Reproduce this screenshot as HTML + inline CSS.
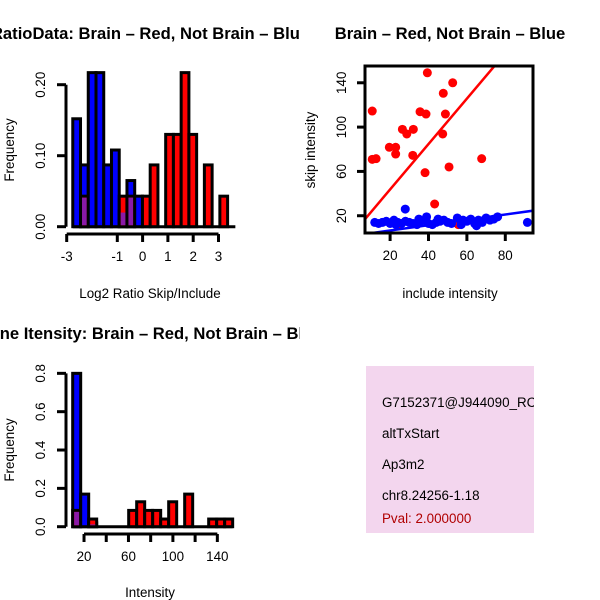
<!DOCTYPE html>
<html><head><meta charset="utf-8"><style>
html,body{margin:0;padding:0;background:#fff;}
svg{display:block;font-family:"Liberation Sans",sans-serif;}
</style></head><body>
<svg id="c" width="600" height="600" viewBox="0 0 600 600">
<defs><clipPath id="leftclip"><rect x="0" y="0" width="300" height="600"/></clipPath></defs>
<rect x="0" y="0" width="600" height="600" fill="#fff"/>
<g id="p1" clip-path="url(#leftclip)"></g>
<g id="p2"></g>
<g id="p3" clip-path="url(#leftclip)"></g>
<g>
<rect x="366" y="366" width="168" height="167" fill="#f3d6ee"/>
<svg x="366" y="366" width="168" height="167" overflow="hidden">
<text x="16" y="41" font-size="13.4">G7152371@J944090_RC</text>
<text x="16" y="72" font-size="13.4">altTxStart</text>
<text x="16" y="103" font-size="13.4">Ap3m2</text>
<text x="16" y="134" font-size="13.4">chr8.24256-1.18</text>
<text x="16" y="157" font-size="13.4" fill="#b00000">Pval: 2.000000</text>
</svg>
</g>
</svg>
<script>
// ---- Panel 1 data: log2 ratio histogram ----
const ratioBinStart = -2.76;
const ratioBinWidth = 0.306;
const ratioBlue = [0.152,0.087,0.217,0.217,0.087,0.108,0.022,0.065,0.043,0,0,0,0,0,0,0,0,0,0,0,0];
const ratioRed  = [0,0.043,0,0,0,0,0.043,0.043,0,0.043,0.087,0,0.13,0.13,0.217,0.13,0,0.087,0,0.043,0];
const ratioXTicks = [-3,-1,0,1,2,3];
const ratioYTicks = [0,0.1,0.2];
const ratioYLabels = ["0.00","0.10","0.20"];

// ---- Panel 2 data: scatter ----
const redInclude = [10.7,10.7,12.7,19.6,22.9,22.9,26.4,28.7,32.1,31.8,35.6,38.7,38.2,39.4,43.2,47.7,48.8,47.4,50.7,52.6,67.7,55.5,24.3];
const redSkip    = [114.5,70.9,71.5,81.8,81.8,75.7,98,93.8,98,74.5,113.9,111.8,58.9,149,30.6,130.5,111.8,93.8,64,140,71.5,12,12];
const blueInclude = [12,14,16,18,20,22,24,26,27.9,28,30,32,34,36,38,39,40,42,44,46,48,50,52,55,57,60,62,64,66,68,70,72,74,76,91.5,23,45,65,35,58];
const blueSkip    = [14,13,14,15,13,16,14,13,26,15,14,13,12,15,16,19,13,12,14,15,16,14,13,18,12,15,17,13,16,14,18,16,17,19,14,12,17,11,17,16];
const redFit = [2.7,2.05];
const blueFit = [1.9,0.24];
const scatXTicks = [20,40,60,80];
const scatYTicks = [20,60,100,140];

// ---- Panel 3 data: intensity histogram ----
const intBinStart = 9.8;
const intBinWidth = 7.2;
const intBlue = [0.8,0.17,0.02,0,0,0,0,0,0,0,0,0,0,0,0,0,0,0,0,0];
const intRed  = [0.085,0,0.04,0,0,0,0,0.085,0.13,0.085,0.085,0.04,0.13,0,0.17,0,0,0.04,0.04,0.04];
const intXTicks = [20,40,60,80,100,120,140];
const intXLabels = ["20","","60","","100","","140"];
const intYTicks = [0,0.2,0.4,0.6,0.8];
const intYLabels = ["0.0","0.2","0.4","0.6","0.8"];

const FS=13.4, TFS=16.6;
const NS="http://www.w3.org/2000/svg";
function mk(parent,tag,attrs,text){const e=document.createElementNS(NS,tag);for(const k in attrs)e.setAttribute(k,attrs[k]);if(text!==undefined)e.textContent=text;parent.appendChild(e);return e;}

function histogram(g,o){
  const sx=v=>o.x0+(v-o.xmin)*o.kx, sy=v=>o.y0-v*o.ky;
  const n=o.blue.length;
  const bl=mk(g,'line',{x1:sx(o.start),x2:sx(o.start+n*o.w),y1:sy(0),y2:sy(0),stroke:'#000','stroke-width':3});
  
  
  for(let i=0;i<n;i++){
    const a=sx(o.start+i*o.w), b=sx(o.start+(i+1)*o.w);
    const series=[[o.blue[i],'#0000ff','blue'],[o.red[i],'#ff0000','red']];
    for(const [v,col,nm] of series){ if(v<=0)continue;
      const r=mk(g,'rect',{x:a,y:sy(v),width:b-a,height:sy(0)-sy(v),fill:col,stroke:'#000','stroke-width':3});
      
      
    }
    const m=Math.min(o.blue[i],o.red[i]);
    if(m>0){
      const r=mk(g,'rect',{x:a+1.5,y:sy(m)+1.5,width:b-a-3,height:sy(0)-sy(m)-3,fill:'#8a1aa8'});
      
      
    }
  }
  const ya=mk(g,'line',{x1:o.yaxX,x2:o.yaxX,y1:sy(o.yt[0]),y2:sy(o.yt[o.yt.length-1]),stroke:'#000','stroke-width':3});
  
  
  o.yt.forEach((t,i)=>{
    mk(g,'line',{x1:o.yaxX-9,x2:o.yaxX,y1:sy(t),y2:sy(t),stroke:'#000','stroke-width':3});
    const tx=mk(g,'text',{x:0,y:0,'font-size':FS,'text-anchor':'middle',transform:`translate(${o.yaxX-21},${sy(t)}) rotate(-90)`},o.yl[i]);
    
    
  });
  const xa=mk(g,'line',{x1:sx(o.xt[0]),x2:sx(o.xt[o.xt.length-1]),y1:o.xaxY,y2:o.xaxY,stroke:'#000','stroke-width':3});
  
  
  o.xt.forEach((t,i)=>{
    mk(g,'line',{x1:sx(t),x2:sx(t),y1:o.xaxY,y2:o.xaxY+8,stroke:'#000','stroke-width':3});
    const tx=mk(g,'text',{x:sx(t),y:o.xaxY+27,'font-size':FS,'text-anchor':'middle'},o.xl[i]);
    
    
  });
}

// Panel 1
const p1=document.getElementById('p1');
histogram(p1,{blue:ratioBlue,red:ratioRed,start:ratioBinStart,w:ratioBinWidth,x0:66.7,xmin:-3,kx:25.3,y0:226.7,ky:710,
  xt:ratioXTicks,xl:ratioXTicks.map(String),yt:ratioYTicks,yl:ratioYLabels,yaxX:66,xaxY:234});
let t=mk(p1,'text',{x:150,y:39,'font-size':TFS,'font-weight':'bold','text-anchor':'middle'},'RatioData: Brain \u2013 Red, Not Brain \u2013 Blue');

t=mk(p1,'text',{x:150,y:298,'font-size':FS,'text-anchor':'middle'},'Log2 Ratio Skip/Include');

t=mk(p1,'text',{x:0,y:0,'font-size':FS,'text-anchor':'middle',transform:'translate(14,150) rotate(-90)'},'Frequency');


// Panel 2
const p2=document.getElementById('p2');
const px=v=>351.7+v*1.92, py=v=>237.9-v*1.108;
const clip=mk(p2,'clipPath',{id:'sc'});mk(clip,'rect',{x:365,y:66,width:168,height:167});
const inner=mk(p2,'g',{'clip-path':'url(#sc)'});
redInclude.forEach((v,i)=>{const c=mk(inner,'circle',{cx:px(v),cy:py(redSkip[i]),r:4.5,fill:'#ff0000'});
  });
blueInclude.forEach((v,i)=>{const c=mk(inner,'circle',{cx:px(v),cy:py(blueSkip[i]),r:4.5,fill:'#0000ff'});
  });
[[redFit,'#ff0000','red-fit-line'],[blueFit,'#0000ff','blue-fit-line']].forEach(([f,col,nm])=>{
  const l=mk(inner,'line',{x1:px(0),y1:py(f[0]),x2:px(100),y2:py(f[0]+f[1]*100),stroke:col,'stroke-width':2.5});
  });
t=mk(p2,'rect',{x:365,y:66,width:168,height:167,fill:'none',stroke:'#000','stroke-width':3});

scatXTicks.forEach(v=>{mk(p2,'line',{x1:px(v),x2:px(v),y1:233,y2:241,stroke:'#000','stroke-width':3});
  const tx=mk(p2,'text',{x:px(v),y:260,'font-size':FS,'text-anchor':'middle'},String(v));
  });
scatYTicks.forEach(v=>{mk(p2,'line',{x1:357,x2:365,y1:py(v),y2:py(v),stroke:'#000','stroke-width':3});
  const tx=mk(p2,'text',{x:0,y:0,'font-size':FS,'text-anchor':'middle',transform:`translate(346,${py(v)}) rotate(-90)`},String(v));
  });
t=mk(p2,'text',{x:450,y:39,'font-size':TFS,'font-weight':'bold','text-anchor':'middle'},'Brain \u2013 Red, Not Brain \u2013 Blue');

t=mk(p2,'text',{x:450,y:298,'font-size':FS,'text-anchor':'middle'},'include intensity');

t=mk(p2,'text',{x:0,y:0,'font-size':FS,'text-anchor':'middle',transform:'translate(315,150) rotate(-90)'},'skip intensity');


// Panel 3
const p3=document.getElementById('p3');
histogram(p3,{blue:intBlue,red:intRed,start:intBinStart,w:intBinWidth,x0:61.8,xmin:0,kx:1.111,y0:526.7,ky:191.7,
  xt:intXTicks,xl:intXLabels,yt:intYTicks,yl:intYLabels,yaxX:66,xaxY:534});
t=mk(p3,'text',{x:150,y:339,'font-size':TFS,'font-weight':'bold','text-anchor':'middle'},'Gene Itensity: Brain \u2013 Red, Not Brain \u2013 Blue');

t=mk(p3,'text',{x:150,y:597,'font-size':FS,'text-anchor':'middle'},'Intensity');

t=mk(p3,'text',{x:0,y:0,'font-size':FS,'text-anchor':'middle',transform:'translate(14,450) rotate(-90)'},'Frequency');

</script>
</body></html>
